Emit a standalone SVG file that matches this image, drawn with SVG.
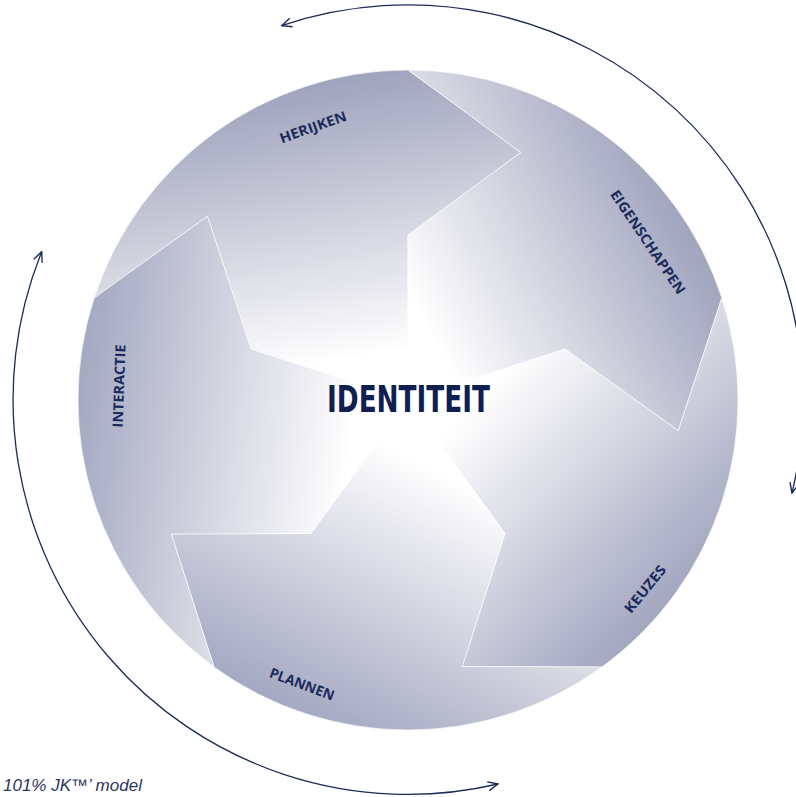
<svg xmlns="http://www.w3.org/2000/svg" width="796" height="797" viewBox="0 0 796 797">
  <defs>
    <style>
      .piece { stroke: #ffffff; stroke-width: 0.9; stroke-opacity: 0.7; stroke-linejoin: miter; }
      .label { font-family: "Open Sans", "DejaVu Sans", sans-serif; font-weight: 700; font-size: 14px; fill: #1b2a5a; text-anchor: middle; }
      .title { font-family: "DejaVu Sans Condensed", "DejaVu Sans", sans-serif; font-weight: 700; font-size: 38px; fill: #0f1f4f; }
      .cycle { fill: none; stroke: #1b2b5a; stroke-width: 1.3; marker-start: url(#arrow); marker-end: url(#arrow); }
      .caption { font-family: "Liberation Sans", Arial, sans-serif; font-style: italic; font-size: 17px; fill: #2b3562; }
    </style>
    <marker id="arrow" viewBox="0 0 12 12" refX="11" refY="6" markerWidth="12" markerHeight="12" markerUnits="userSpaceOnUse" orient="auto-start-reverse">
      <path d="M1,1.5 L11,6 L1,10.5" fill="none" stroke="#1b2b5a" stroke-width="1.4"/>
    </marker>
    <!-- one gradient per segment: white at the hub, darker toward the rim -->
    <linearGradient id="gHerijken" gradientUnits="userSpaceOnUse" x1="408" y1="400" x2="350.7" y2="75">
      <stop offset="0" stop-color="#ffffff"/><stop offset="0.15" stop-color="#ffffff"/><stop offset="1" stop-color="#9fa3bc"/>
    </linearGradient>
    <linearGradient id="gEigen" gradientUnits="userSpaceOnUse" x1="408" y1="400" x2="699.4" y2="245.1">
      <stop offset="0" stop-color="#ffffff"/><stop offset="0.15" stop-color="#ffffff"/><stop offset="1" stop-color="#a0a4bd"/>
    </linearGradient>
    <linearGradient id="gKeuzes" gradientUnits="userSpaceOnUse" x1="408" y1="400" x2="645.4" y2="629.2">
      <stop offset="0" stop-color="#ffffff"/><stop offset="0.15" stop-color="#ffffff"/><stop offset="1" stop-color="#a2a6bf"/>
    </linearGradient>
    <linearGradient id="gPlannen" gradientUnits="userSpaceOnUse" x1="408" y1="400" x2="263.3" y2="696.6">
      <stop offset="0" stop-color="#ffffff"/><stop offset="0.15" stop-color="#ffffff"/><stop offset="1" stop-color="#a4a8c1"/>
    </linearGradient>
    <linearGradient id="gInteractie" gradientUnits="userSpaceOnUse" x1="408" y1="400" x2="80.6" y2="354.1">
      <stop offset="0" stop-color="#ffffff"/><stop offset="0.15" stop-color="#ffffff"/><stop offset="1" stop-color="#a4a8c1"/>
    </linearGradient>
  </defs>

  <rect width="796" height="797" fill="#ffffff"/>

  <!-- five interlocking segments of the wheel -->
  <g id="herijken">
    <path class="piece" fill="url(#gHerijken)" d="M408,400 L251.07,349.01 L207.46,216.24 L94.15,298.02 A330,330 0 0 1 408,70 L520.8,152.49 L408,235 Z"/>
    <text class="label" transform="translate(313,127) rotate(-19.5)" dy="0.36em" textLength="70" lengthAdjust="spacingAndGlyphs">HERIJKEN</text>
  </g>
  <g id="eigenschappen">
    <path class="piece" fill="url(#gEigen)" d="M408,400 L408,235 L520.8,152.49 L408,70 A330,330 0 0 1 721.85,298.02 L678.25,430.79 L564.93,349.01 Z"/>
    <text class="label" transform="translate(648,242) rotate(56)" dy="0.36em" textLength="122" lengthAdjust="spacingAndGlyphs">EIGENSCHAPPEN</text>
  </g>
  <g id="keuzes">
    <path class="piece" fill="url(#gKeuzes)" d="M408,400 L564.93,349.01 L678.25,430.79 L721.85,298.02 A330,330 0 0 1 601.97,666.98 L462.23,666.54 L504.99,533.49 Z"/>
    <text class="label" transform="translate(645,589) rotate(-51)" dy="0.36em" textLength="57" lengthAdjust="spacingAndGlyphs">KEUZES</text>
  </g>
  <g id="plannen">
    <path class="piece" fill="url(#gPlannen)" d="M408,400 L504.99,533.49 L462.23,666.54 L601.97,666.98 A330,330 0 0 1 214.03,666.98 L171.26,533.94 L311.01,533.49 Z"/>
    <text class="label" transform="translate(302,684) rotate(20.5)" dy="0.36em" textLength="68" lengthAdjust="spacingAndGlyphs">PLANNEN</text>
  </g>
  <g id="interactie">
    <path class="piece" fill="url(#gInteractie)" d="M408,400 L311.01,533.49 L171.26,533.94 L214.03,666.98 A330,330 0 0 1 94.15,298.02 L207.46,216.24 L251.07,349.01 Z"/>
    <text class="label" transform="translate(119,386) rotate(-88)" dy="0.36em" textLength="83" lengthAdjust="spacingAndGlyphs">INTERACTIE</text>
  </g>

  <g id="identiteit">
    <text class="title" x="327" y="412" textLength="163" lengthAdjust="spacingAndGlyphs">IDENTITEIT</text>
  </g>

  <!-- double-headed cycle arrows around the wheel -->
  <g id="connectors">
    <path class="cycle" d="M281.7,25.7 A395,395 0 0 1 792,493"/>
    <path class="cycle" d="M498,784 A395,395 0 0 1 41.7,251.7"/>
  </g>

  <text class="caption" x="3" y="791">101% JK™’ model</text>
</svg>
